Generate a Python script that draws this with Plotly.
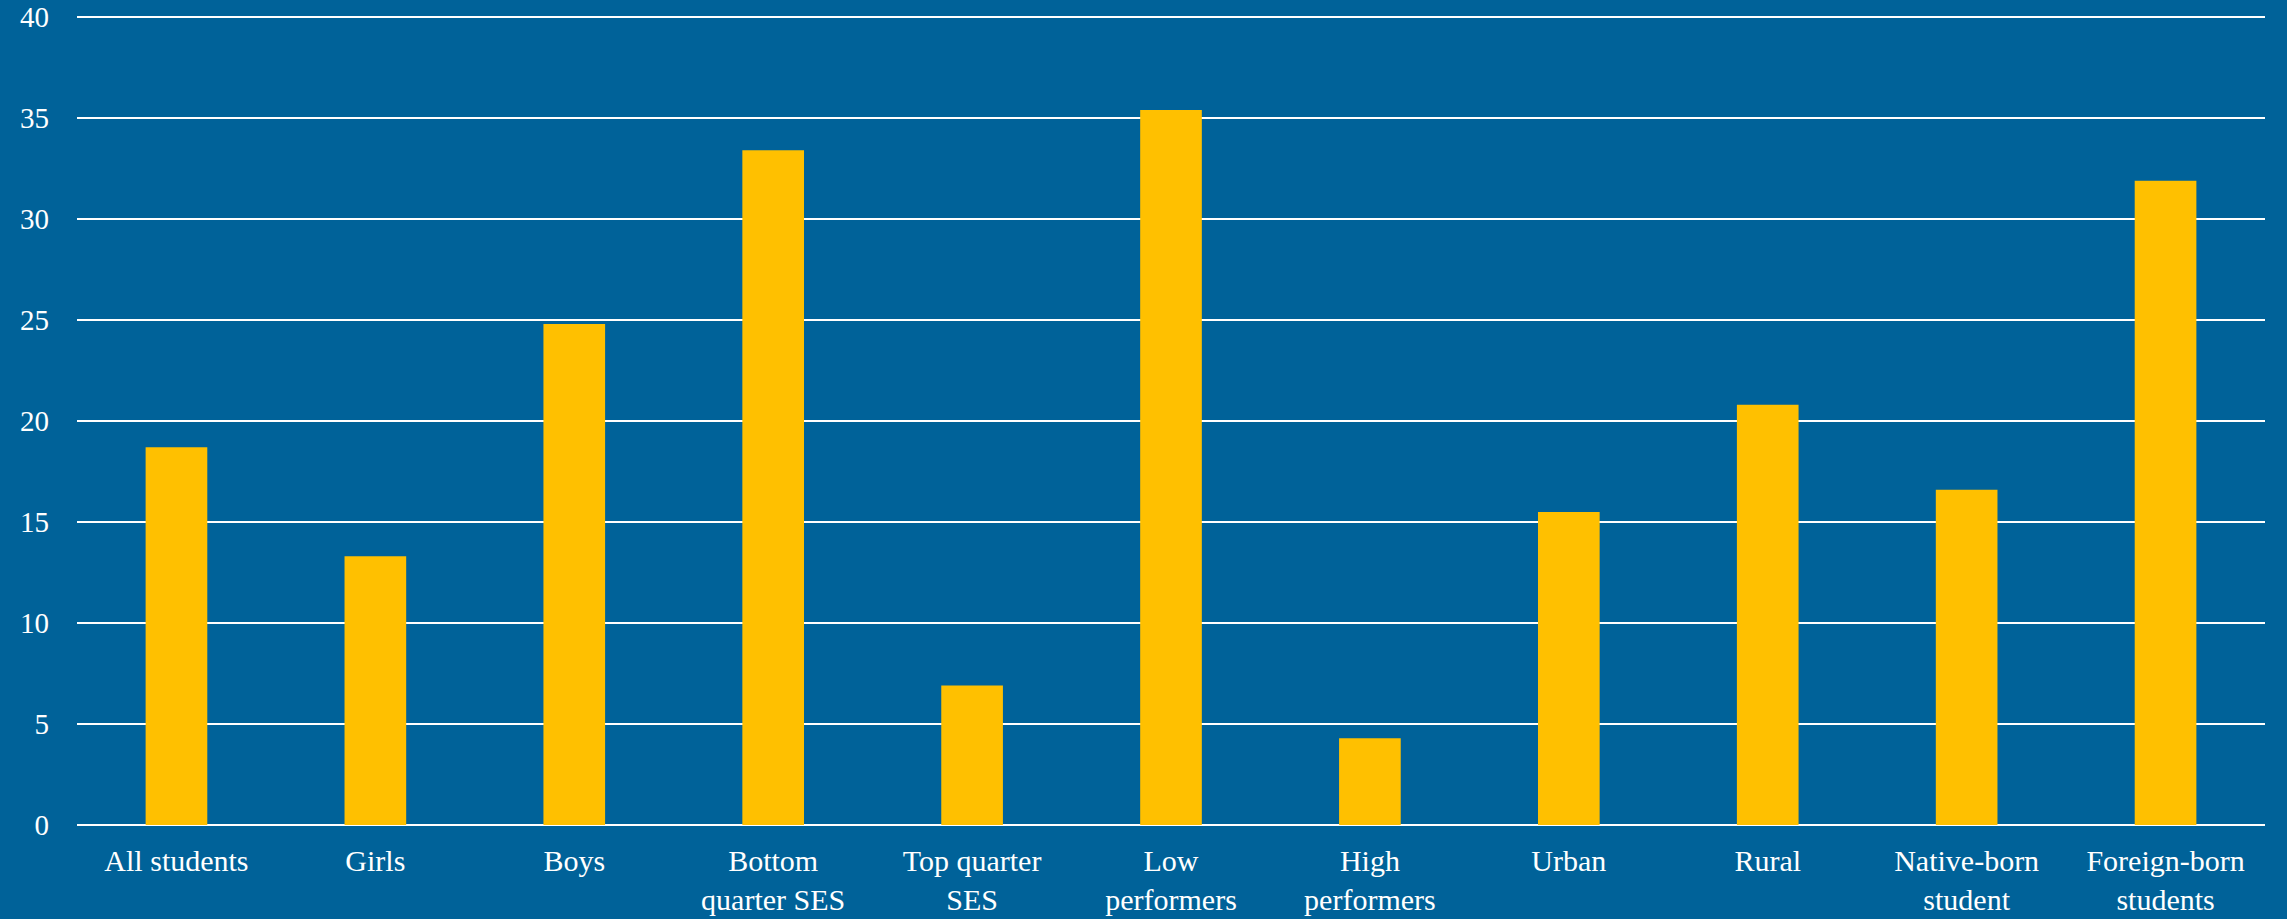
import plotly.graph_objects as go

categories = ["All students", "Girls", "Boys", "Bottom<br>quarter SES", "Top quarter<br>SES",
              "Low<br>performers", "High<br>performers", "Urban", "Rural",
              "Native-born<br>student", "Foreign-born<br>students"]
values = [18.7, 13.3, 24.8, 33.4, 6.9, 35.4, 4.3, 15.5, 20.8, 16.6, 31.9]
y_ticks = [0, 5, 10, 15, 20, 25, 30, 35, 40]

BG = "#006299"
BAR = "#FFC000"
FONT = "Liberation Serif"

fig = go.Figure(go.Bar(x=categories, y=values, marker=dict(color=BAR, line=dict(width=0))))

fig.update_layout(
    width=2287, height=919,
    paper_bgcolor=BG, plot_bgcolor=BG,
    margin=dict(l=77, r=22, t=15, b=94),
    bargap=0.69,
    showlegend=False,
    font=dict(family=FONT, color="white", size=28),
)
fig.update_xaxes(showgrid=False, showline=False, zeroline=False, ticks="", automargin=False,
                 tickfont=dict(family=FONT, size=30, color="white"), ticklabelstandoff=15,
                 tickangle=0, ticklabeloverflow="allow")
fig.update_yaxes(range=[0, 40.1], tickvals=y_ticks, showgrid=True, gridcolor="white", gridwidth=2,
                 zeroline=True, zerolinecolor="white", zerolinewidth=2, showline=False, ticks="",
                 automargin=False, ticklabeloverflow="allow",
                 tickfont=dict(family=FONT, size=29, color="white"), ticklabelstandoff=27)

fig.write_html("out.html")
